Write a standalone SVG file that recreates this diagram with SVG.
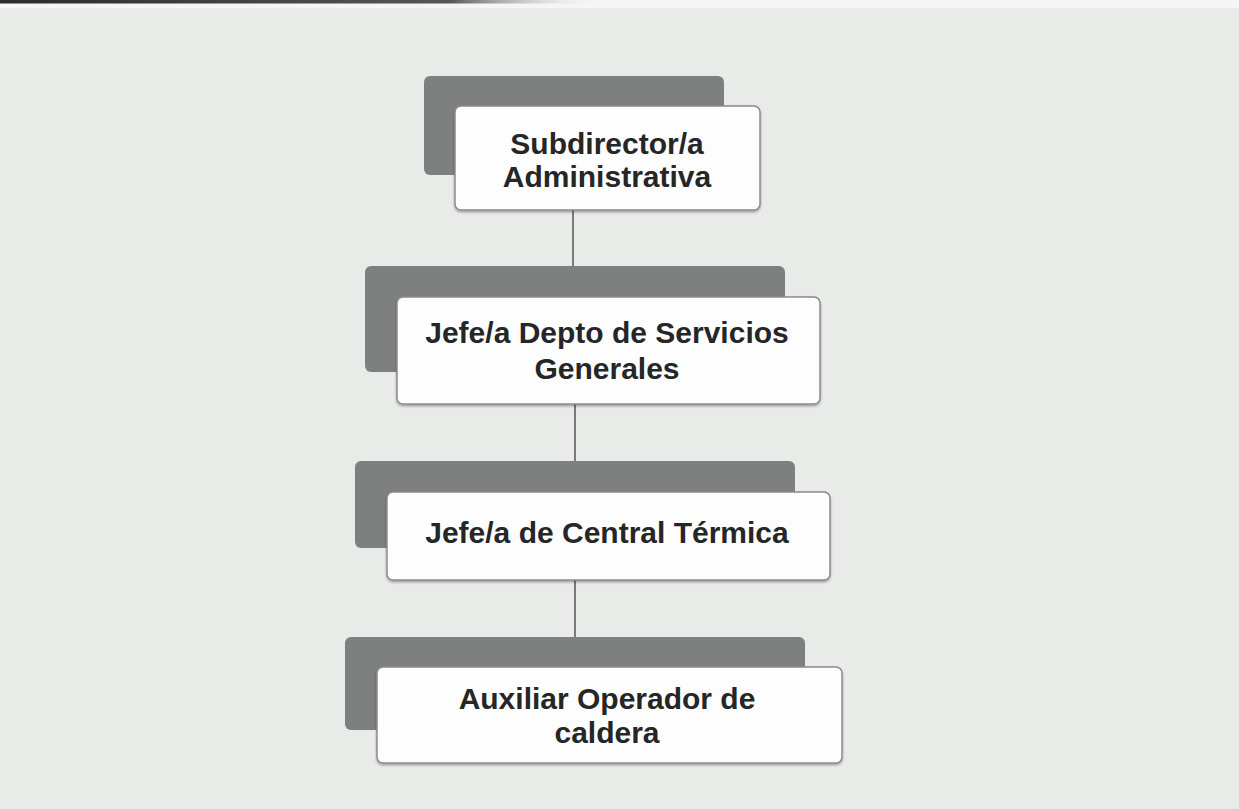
<svg xmlns="http://www.w3.org/2000/svg" width="1239" height="809" viewBox="0 0 1239 809">
<defs>
<linearGradient id="topbar" x1="0" y1="0" x2="1" y2="0">
<stop offset="0" stop-color="#2a2c2c"/>
<stop offset="0.75" stop-color="#555757"/>
<stop offset="1" stop-color="#e9ebe9" stop-opacity="0"/>
</linearGradient>
<filter id="sh" x="-5%" y="-10%" width="110%" height="130%">
<feDropShadow dx="0" dy="1.5" stdDeviation="1.2" flood-color="#000" flood-opacity="0.35"/>
</filter>
</defs>
<style>
.back{fill:#7e807f;}
.front{fill:#fdfdfd;stroke:#8a8c8b;stroke-width:1.5;filter:url(#sh);}
.lbl{font-family:"Liberation Sans",Arial,sans-serif;font-weight:bold;font-size:30px;fill:#262626;text-anchor:middle;}
.conn line{stroke:#555;stroke-width:1.5;}
</style>
<rect x="0" y="0" width="1239" height="809" fill="#e9ebe9"/>
<rect x="0" y="0" width="1239" height="8" fill="#f4f5f4"/>
<rect x="0" y="0" width="600" height="3.5" fill="url(#topbar)"/>
<g id="connectors" class="conn">
<line x1="573" y1="210" x2="573" y2="267"/>
<line x1="575" y1="404" x2="575" y2="462"/>
<line x1="575" y1="580" x2="575" y2="637"/>
</g>
<g id="node1">
<rect class="back" x="424" y="76" width="300" height="99" rx="6"/>
<rect class="front" x="455" y="106" width="305" height="104" rx="6"/>
<text class="lbl" x="607" y="154">Subdirector/a</text>
<text class="lbl" x="607" y="187">Administrativa</text>
</g>
<g id="node2">
<rect class="back" x="365" y="266" width="420" height="106" rx="6"/>
<rect class="front" x="397" y="297" width="423" height="107" rx="6"/>
<text class="lbl" x="607" y="343">Jefe/a Depto de Servicios</text>
<text class="lbl" x="607" y="379">Generales</text>
</g>
<g id="node3">
<rect class="back" x="355" y="461" width="440" height="87" rx="6"/>
<rect class="front" x="387" y="492" width="443" height="88" rx="6"/>
<text class="lbl" x="607" y="543">Jefe/a de Central Térmica</text>
</g>
<g id="node4">
<rect class="back" x="345" y="637" width="460" height="93" rx="6"/>
<rect class="front" x="377" y="667" width="465" height="96" rx="6"/>
<text class="lbl" x="607" y="709">Auxiliar Operador de</text>
<text class="lbl" x="607" y="743">caldera</text>
</g>
</svg>
